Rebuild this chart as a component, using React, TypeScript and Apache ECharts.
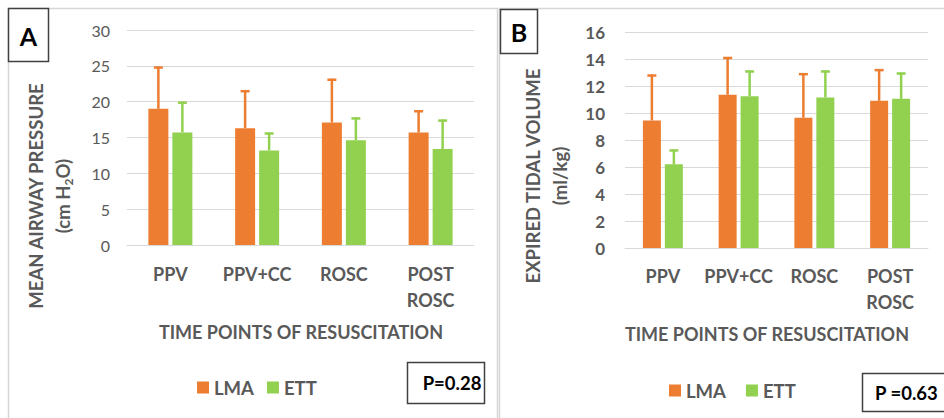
import React, { useEffect, useRef } from "react";
import * as echarts from "echarts";

const categories = ["PPV", "PPV+CC", "ROSC", "POST\nROSC"];
const seriesNames = ["LMA", "ETT"];

// Panel A: Mean airway pressure (cm H2O)
const pressureLmaMean = [19.0, 16.3, 17.1, 15.7];
const pressureLmaSd = [5.9, 5.3, 6.1, 3.1];
const pressureEttMean = [15.7, 13.2, 14.6, 13.4];
const pressureEttSd = [4.3, 2.5, 3.2, 4.1];
const pressureTicks = { min: 0, max: 30, interval: 5 };

// Panel B: Expired tidal volume (ml/kg)
const volumeLmaMean = [9.45, 11.35, 9.65, 10.9];
const volumeLmaSd = [3.4, 2.8, 3.3, 2.35];
const volumeEttMean = [6.2, 11.25, 11.15, 11.05];
const volumeEttSd = [1.1, 1.9, 2.0, 1.95];
const volumeTicks = { min: 0, max: 16, interval: 2 };

const pValueA = "P=0.28";
const pValueB = "P =0.63";

const ORANGE = "#ED7D31";
const GREEN = "#92D050";
const GREY = "#595959";
const GRID = "#D9D9D9";
const FONT = "Lato";

function errorSeries(
  name: string,
  means: number[],
  sds: number[],
  color: string,
  offset: number,
  axisIndex: number
) {
  return {
    type: "custom",
    name,
    xAxisIndex: axisIndex,
    yAxisIndex: axisIndex,
    z: 5,
    silent: true,
    data: means.map((m, i) => [i, m, m + sds[i]]),
    encode: { x: 0, y: [1, 2] },
    renderItem: (params: any, api: any) => {
      const cat = api.value(0);
      const p0 = api.coord([cat, api.value(1)]);
      const p1 = api.coord([cat, api.value(2)]);
      const x = p0[0] + offset;
      return {
        type: "group",
        children: [
          {
            type: "line",
            shape: { x1: x, y1: p0[1], x2: x, y2: p1[1] },
            style: { stroke: color, lineWidth: 2.5 },
          },
          {
            type: "line",
            shape: { x1: x - 4.5, y1: p1[1] + 1, x2: x + 4.5, y2: p1[1] + 1 },
            style: { stroke: color, lineWidth: 2.5 },
          },
        ],
      };
    },
  };
}

export default function App() {
  const ref = useRef<HTMLDivElement>(null);
  useEffect(() => {
    if (!ref.current) return;
    const chart = echarts.init(ref.current, undefined, { renderer: "svg" });

    const catAxis = (gridIndex: number, margin: number) => ({
      type: "category",
      gridIndex,
      data: categories,
      axisLine: { lineStyle: { color: GRID, width: 1 } },
      axisTick: { show: false },
      axisLabel: {
        color: GREY,
        fontFamily: FONT,
        fontWeight: "bold",
        fontSize: 18,
        lineHeight: 26,
        margin,
        interval: 0,
      },
    });

    const legendText = { color: GREY, fontFamily: FONT, fontWeight: "bold", fontSize: 18.5 };

    const option: any = {
      animation: false,
      backgroundColor: "#ffffff",
      grid: [
        { left: 127, top: 30, width: 347, height: 215, containLabel: false },
        { left: 625, top: 32, width: 303, height: 216, containLabel: false },
      ],
      xAxis: [catAxis(0, 16), catAxis(1, 15)],
      yAxis: [
        {
          type: "value",
          gridIndex: 0,
          ...pressureTicks,
          axisLine: { show: false },
          axisTick: { show: false },
          splitLine: { lineStyle: { color: GRID, width: 1 } },
          axisLabel: { color: GREY, fontFamily: FONT, fontSize: 16, margin: 17 },
        },
        {
          type: "value",
          gridIndex: 1,
          ...volumeTicks,
          axisLine: { show: false },
          axisTick: { show: false },
          splitLine: { lineStyle: { color: GRID, width: 1 } },
          axisLabel: {
            color: GREY,
            fontFamily: FONT,
            fontWeight: "bold",
            fontSize: 17,
            margin: 20,
          },
        },
      ],
      legend: [
        {
          data: seriesNames,
          left: 192,
          top: 373,
          icon: "rect",
          itemWidth: 12,
          itemHeight: 12,
          itemGap: 13,
          selectedMode: false,
          textStyle: legendText,
        },
        {
          data: seriesNames,
          left: 664,
          top: 376,
          icon: "rect",
          itemWidth: 12,
          itemHeight: 12,
          itemGap: 20,
          selectedMode: false,
          textStyle: legendText,
        },
      ],
      series: [
        {
          type: "bar",
          name: "LMA",
          xAxisIndex: 0,
          yAxisIndex: 0,
          data: pressureLmaMean,
          barWidth: 20,
          barGap: "20%",
          itemStyle: { color: ORANGE },
        },
        {
          type: "bar",
          name: "ETT",
          xAxisIndex: 0,
          yAxisIndex: 0,
          data: pressureEttMean,
          barWidth: 20,
          barGap: "20%",
          itemStyle: { color: GREEN },
        },
        {
          type: "bar",
          name: "LMA",
          xAxisIndex: 1,
          yAxisIndex: 1,
          data: volumeLmaMean,
          barWidth: 18,
          barGap: "22%",
          itemStyle: { color: ORANGE },
        },
        {
          type: "bar",
          name: "ETT",
          xAxisIndex: 1,
          yAxisIndex: 1,
          data: volumeEttMean,
          barWidth: 18,
          barGap: "22%",
          itemStyle: { color: GREEN },
        },
        errorSeries("LMA SD A", pressureLmaMean, pressureLmaSd, ORANGE, -12, 0),
        errorSeries("ETT SD A", pressureEttMean, pressureEttSd, GREEN, 12, 0),
        errorSeries("LMA SD B", volumeLmaMean, volumeLmaSd, ORANGE, -11, 1),
        errorSeries("ETT SD B", volumeEttMean, volumeEttSd, GREEN, 11, 1),
      ],
      graphic: [
        // panel frames
        {
          type: "rect",
          shape: { x: 8.5, y: 8.5, width: 489, height: 420 },
          style: { fill: "none", stroke: "#D6D6D6", lineWidth: 1.5 },
          z: 0,
        },
        {
          type: "rect",
          shape: { x: 499.5, y: 8.5, width: 460, height: 420 },
          style: { fill: "none", stroke: "#D6D6D6", lineWidth: 1.5 },
          z: 0,
        },
        // panel letters
        {
          type: "rect",
          shape: { x: 8.5, y: 8.5, width: 40, height: 53 },
          style: { fill: "#fff", stroke: "#404040", lineWidth: 1.5 },
          z: 10,
        },
        {
          type: "text",
          x: 28.5,
          y: 36,
          z: 11,
          style: {
            text: "A",
            fill: "#000",
            fontFamily: FONT,
            fontWeight: "bold",
            fontSize: 25,
            textAlign: "center",
            textVerticalAlign: "middle",
          },
        },
        {
          type: "rect",
          shape: { x: 500.5, y: 9.5, width: 37, height: 44 },
          style: { fill: "#fff", stroke: "#404040", lineWidth: 1.5 },
          z: 10,
        },
        {
          type: "text",
          x: 519,
          y: 32,
          z: 11,
          style: {
            text: "B",
            fill: "#000",
            fontFamily: FONT,
            fontWeight: "bold",
            fontSize: 25,
            textAlign: "center",
            textVerticalAlign: "middle",
          },
        },
        // y-axis titles
        {
          type: "text",
          x: 49.5,
          y: 196,
          rotation: Math.PI / 2,
          style: {
            text: "MEAN AIRWAY PRESSURE\n(cm H{sub|2}O)",
            fill: GREY,
            fontFamily: FONT,
            fontWeight: "bold",
            fontSize: 18.5,
            lineHeight: 27,
            textAlign: "center",
            textVerticalAlign: "middle",
            rich: {
              sub: {
                fontFamily: FONT,
                fontWeight: "bold",
                fontSize: 12,
                fill: GREY,
                padding: [10, 0, 0, 0],
              },
            },
          },
        },
        {
          type: "text",
          x: 546.5,
          y: 176,
          rotation: Math.PI / 2,
          style: {
            text: "EXPIRED TIDAL VOLUME\n(ml/kg)",
            fill: GREY,
            fontFamily: FONT,
            fontWeight: "bold",
            fontSize: 18.5,
            lineHeight: 27,
            textAlign: "center",
            textVerticalAlign: "middle",
          },
        },
        // x-axis titles
        {
          type: "text",
          x: 301,
          y: 332,
          style: {
            text: "TIME POINTS OF RESUSCITATION",
            fill: GREY,
            fontFamily: FONT,
            fontWeight: "bold",
            fontSize: 18,
            textAlign: "center",
            textVerticalAlign: "middle",
          },
        },
        {
          type: "text",
          x: 767,
          y: 334,
          style: {
            text: "TIME POINTS OF RESUSCITATION",
            fill: GREY,
            fontFamily: FONT,
            fontWeight: "bold",
            fontSize: 18,
            textAlign: "center",
            textVerticalAlign: "middle",
          },
        },
        // p-value boxes
        {
          type: "rect",
          shape: { x: 407.5, y: 362.5, width: 77, height: 41 },
          style: { fill: "#fff", stroke: "#404040", lineWidth: 1.5 },
          z: 10,
        },
        {
          type: "text",
          x: 452,
          y: 383,
          z: 11,
          style: {
            text: pValueA,
            fill: "#000",
            fontFamily: FONT,
            fontWeight: "bold",
            fontSize: 18.5,
            textAlign: "center",
            textVerticalAlign: "middle",
          },
        },
        {
          type: "rect",
          shape: { x: 862.5, y: 373.5, width: 100, height: 38 },
          style: { fill: "#fff", stroke: "#404040", lineWidth: 1.5 },
          z: 10,
        },
        {
          type: "text",
          x: 875,
          y: 393,
          z: 11,
          style: {
            text: pValueB,
            fill: "#000",
            fontFamily: FONT,
            fontWeight: "bold",
            fontSize: 18.5,
            textAlign: "left",
            textVerticalAlign: "middle",
          },
        },
      ],
    };

    chart.setOption(option);
    return () => chart.dispose();
  }, []);

  return (
    <div
      ref={ref}
      style={{ position: "absolute", left: 0, top: 0, width: 944, height: 418 }}
    />
  );
}
